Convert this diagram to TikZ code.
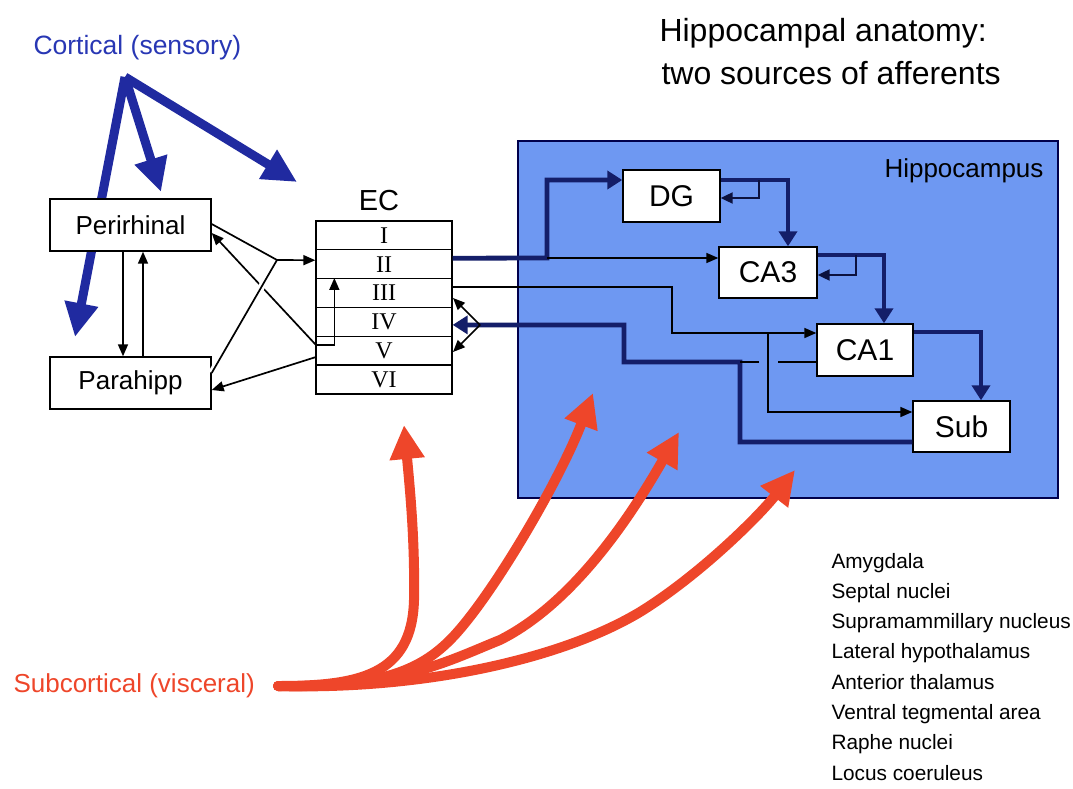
\documentclass[tikz,border=0pt]{standalone}
\usepackage{fontspec}
\setmainfont{Liberation Sans}
\newfontfamily\romfont{Liberation Serif}
\usetikzlibrary{arrows.meta,calc}
\definecolor{cblue}{RGB}{32,42,160}
\definecolor{ctext}{RGB}{40,55,180}
\definecolor{navy}{RGB}{20,30,105}
\definecolor{hfill}{RGB}{110,152,242}
\definecolor{hred}{RGB}{238,70,42}
\pgfdeclarelayer{bg}
\pgfsetlayers{bg,main}
\begin{document}
\begin{tikzpicture}[x=1pt,y=-1pt,
  box/.style={draw=black,fill=white,line width=1.4pt,inner sep=0pt,font=\fontsize{26}{26}\selectfont},
  hbox/.style={draw=black,fill=white,line width=1.4pt,inner sep=0pt,font=\fontsize{30}{30}\selectfont},
  ecrow/.style={draw=black,fill=white,line width=1.3pt,inner sep=0pt,minimum width=136pt,minimum height=28.83pt,font=\romfont\fontsize{24}{24}\selectfont},
  thin/.style={draw=black,line width=1.7pt},
  thinarrow/.style={thin,-{Triangle[length=12pt,width=10pt]}},
  thick/.style={draw=navy,line width=4.8pt},
  thickarrow/.style={thick,-{Triangle[length=15pt,width=18pt]}},
  loop/.style={draw=navy!60!black,line width=2.2pt,-{Triangle[length=12pt,width=11pt]}},
  cort/.style={draw=cblue,line width=9pt,-{Triangle[length=34pt,width=32pt]}},
  redarrow/.style={draw=hred,line width=10pt,line cap=round,-{Triangle[length=34pt,width=33pt]}},
  lbl/.style={anchor=base west}
]
\useasboundingbox (0,0) rectangle (1073,789);

% Hippocampus region and cortical afferents (behind boxes)
\begin{pgfonlayer}{bg}
  \filldraw[fill=hfill,draw=black!70!blue,line width=1.5pt] (518,141) rectangle (1058,498);
  \coordinate (co) at (125,77);
  \coordinate (cp1) at (75,337);
  \coordinate (cp2) at (161,192);
  \coordinate (cp3) at (297,182);
  \draw[cort] (co) -- (cp1);
  \draw[cort] (co) -- (cp2);
  \draw[cort] (co) -- (cp3);
\end{pgfonlayer}

% Titles and labels
\node[lbl,font=\fontsize{32}{32}\selectfont] (t1) at (656,42) {Hippocampal anatomy:};
\node[lbl,font=\fontsize{32}{32}\selectfont] (t2) at (658,85) {two sources of afferents};
\node[lbl,text=ctext,font=\fontsize{26.5}{26.5}\selectfont] (cortlab) at (30,55) {Cortical (sensory)};
\node[anchor=base east,font=\fontsize{26}{26}\selectfont] (hlab) at (1047,177) {Hippocampus};
\node[anchor=base,font=\fontsize{29}{29}\selectfont] (eclab) at (379,210) {EC};
\node[lbl,text=hred,font=\fontsize{26}{26}\selectfont] (subc) at (10,692) {Subcortical (visceral)};
\foreach \t [count=\i] in {Amygdala,Septal nuclei,Supramammillary nucleus,Lateral hypothalamus,Anterior thalamus,Ventral tegmental area,Raphe nuclei,Locus coeruleus}
  \node[lbl,font=\fontsize{20.8}{20.8}\selectfont] (l\i) at (828,{568+30.3*(\i-1)}) {\t};

% Cortical boxes
\node[box,minimum width=161pt,minimum height=52pt] (peri) at (130.5,225) {Perirhinal};
\node[box,minimum width=161pt,minimum height=52pt] (para) at (130.5,383) {Parahipp};

% EC layers
\foreach \t [count=\i] in {I,II,III,IV,V,VI}
  \node[ecrow] (ec\i) at (384,{235.4+28.83*(\i-1)}) {\t};

% Hippocampal boxes
\node[hbox,minimum width=97pt,minimum height=52pt] (dg) at (671.5,196) {DG};
\node[hbox,minimum width=98pt,minimum height=51pt] (ca3) at (768,272.5) {CA3};
\node[hbox,minimum width=96pt,minimum height=52pt] (ca1) at (865,350) {CA1};
\node[hbox,minimum width=97pt,minimum height=51pt] (sub) at (961.5,426.5) {Sub};

% Perirhinal / Parahipp <-> EC
\coordinate (J) at (277,260);
\coordinate (e5) at (316,345);
\coordinate (e5b) at (316,357);
\draw[thinarrow] (e5) -- ([yshift=-8pt]peri.east);
\draw[thin,preaction={draw=white,line width=7pt}] ([yshift=10pt]para.east) -- (J);
\draw[thin] ([yshift=1pt]peri.east) -- (J);
\draw[thinarrow] (J) -- ([yshift=4pt]ec2.west);
\draw[thinarrow] (e5) -| ([xshift=19pt]ec3.north west);
\draw[thinarrow] (e5b) -- ([yshift=-7pt]para.east);
\draw[thinarrow] ([xshift=-7.5pt]peri.south) -- ([xshift=-7.5pt]para.north);
\draw[thinarrow] ([xshift=12.5pt]para.north) -- ([xshift=12.5pt]peri.south);

% EC II -> DG, CA3
\coordinate (b2) at (547,258);
\draw[thickarrow] ([yshift=6pt]ec2.east) -- (b2) |- ([yshift=16pt]dg.west);
\draw[thinarrow] (b2) -- ([yshift=14.5pt]ca3.west);

% DG -> CA3 and recurrent
\draw[thickarrow] ([yshift=16pt]dg.east) -| ([xshift=20pt]ca3.north);
\coordinate (dgl) at (759,180);
\draw[loop] (dgl) |- ([yshift=-2pt]dg.east);

% CA3 -> CA1 and recurrent
\draw[thickarrow] ([yshift=17.5pt]ca3.east) -| ([xshift=19pt]ca1.north);
\coordinate (ca3l) at (856,255);
\draw[loop] (ca3l) |- ([yshift=-2.5pt]ca3.east);

% CA1 -> Sub
\draw[thickarrow] ([yshift=18pt]ca1.east) -| ([xshift=19.5pt]sub.north);

% EC III -> CA1, Sub
\coordinate (b3) at (672,287);
\coordinate (b4) at (768,333);
\draw[thinarrow] ([yshift=6pt]ec3.east) -- (b3) |- ([yshift=17pt]ca1.west);
\draw[thinarrow] (b4) |- ([yshift=14.5pt]sub.west);

% Sub / CA1 -> EC deep layers
\coordinate (r1) at (740,442);
\coordinate (r2) at (740,362);
\coordinate (r3) at (624,362);
\coordinate (r4) at (624,325);
\coordinate (fork) at (480,325);
\draw[thickarrow] ([yshift=-15.5pt]sub.west) -- (r1) -- (r2) -- (r3) -- (r4) -- ([yshift=-3pt]ec4.east);
\coordinate (g1) at (778,362);
\coordinate (g2) at (759,362);
\draw[thin] ([yshift=-12pt]ca1.west) -- (g1);
\draw[thin] (g2) -- (r2);
\coordinate (f3) at (453,298);
\coordinate (f5) at (453,352);
\draw[thinarrow] (fork) -- (f3);
\draw[thinarrow] (fork) -- (f5);

% Subcortical afferents
\coordinate (so) at (278,686);
\coordinate (rt1) at (404,425);
\coordinate (rt2) at (593,393);
\coordinate (rt3) at (679,432);
\coordinate (rt4) at (795,470);
\draw[redarrow] (so) .. controls (360,686) and (412,675) .. (414,600) .. controls (415,540) and (410,490) .. (rt1);
\draw[redarrow] (so) .. controls (380,688) and (420,670) .. (450,640) .. controls (490,600) and (560,480) .. (rt2);
\draw[redarrow] (so) .. controls (400,688) and (450,660) .. (500,640) .. controls (580,600) and (640,500) .. (rt3);
\draw[redarrow] (so) .. controls (420,690) and (560,660) .. (640,612) .. controls (700,575) and (760,515) .. (rt4);
\end{tikzpicture}
\end{document}
